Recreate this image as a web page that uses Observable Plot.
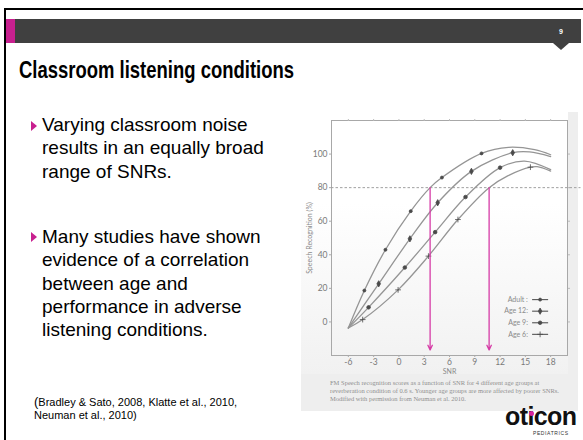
<!DOCTYPE html>
<html>
<head>
<meta charset="utf-8">
<script src="https://cdn.jsdelivr.net/npm/d3@7"></script>
<script src="https://cdn.jsdelivr.net/npm/@observablehq/plot@0.6"></script>
<style>
  html, body { margin: 0; padding: 0; }
  body { width: 583px; height: 440px; position: relative; overflow: hidden; background: #fff; font-family: "Liberation Sans", Arial, sans-serif; }
  .abs { position: absolute; }
  #band { left: 6px; top: 19px; width: 575px; height: 24px; background: #404040; }
  #pink { left: 6px; top: 19px; width: 9px; height: 24px; background: #c8208f; }
  #notch { left: 553px; top: 43px; width: 0; height: 0; border-left: 8px solid transparent; border-right: 8px solid transparent; border-top: 7px solid #404040; }
  #pnum { left: 556px; top: 28px; width: 10px; text-align: center; color: #fff; font-size: 7px; font-weight: bold; }
  #bTop { left: 4px; top: 8px; width: 579px; height: 2px; background: #000; }
  #bLeft { left: 4px; top: 8px; width: 2px; height: 432px; background: #000; }
  #title { left: 19px; top: 56px; font-size: 24px; font-weight: bold; color: #000; white-space: nowrap; transform-origin: left center; }
  .bullet { left: 42px; font-size: 19px; line-height: 23.3px; color: #000; white-space: nowrap; }
  .tri { width: 0; height: 0; border-top: 5px solid transparent; border-bottom: 5px solid transparent; border-left: 6px solid #c8208f; }
  #cite { left: 34px; top: 395px; font-size: 11px; line-height: 13px; color: #000; white-space: nowrap; }
  #panel { left: 301px; top: 112px; width: 277px; height: 299px; background: #eeeeee; }
  #panelWhite { left: 301px; top: 112px; width: 267px; height: 262px; background: linear-gradient(to bottom, #ffffff 0%, #ffffff 35%, #f1f1f1 100%); }
  #chart { left: 301px; top: 112px; }
  #caption { left: 330px; top: 379px; font-family: "Liberation Serif", serif; font-size: 6.5px; line-height: 8px; color: #8e8e8e; white-space: nowrap; }
  #logo { left: 505px; top: 402px; font-size: 25px; font-weight: bold; color: #111; letter-spacing: -0.6px; }
  #logodot { left: 529px; top: 411px; width: 5px; height: 5px; border-radius: 50%; background: #d6249f; }
  #ped { left: 533px; top: 430px; font-size: 5px; letter-spacing: 0.6px; color: #333; }
</style>
</head>
<body>
<div class="abs" id="bTop"></div>
<div class="abs" id="bLeft"></div>
<div class="abs" id="band"></div>
<div class="abs" id="pink"></div>
<div class="abs" id="notch"></div>
<div class="abs" id="pnum">9</div>
<div class="abs" id="title">Classroom listening conditions</div>

<div class="abs tri" style="left:31px;top:121px;"></div>
<div class="abs bullet" style="top:113px;">Varying classroom noise<br>results in an equally broad<br>range of SNRs.</div>
<div class="abs tri" style="left:31px;top:232px;"></div>
<div class="abs bullet" style="top:225px;">Many studies have shown<br>evidence of a correlation<br>between age and<br>performance in adverse<br>listening conditions.</div>
<div class="abs" id="cite"><span style="font-size:13px">(</span>Bradley &amp; Sato, 2008, Klatte et al., 2010,<br>Neuman et al., 2010)</div>

<div class="abs" id="panel"></div>
<div class="abs" id="panelWhite"></div>
<div class="abs" id="chart"></div>
<div class="abs" id="caption">FM Speech recognition scores as a function of SNR for 4 different age groups at<br>reverberation condition of 0.6 s. Younger age groups are more affected by poorer SNRs.<br>Modified with permission from Neuman et al. 2010.</div>

<div class="abs" id="logo">oticon</div>
<div class="abs" id="logodot"></div>
<div class="abs" id="ped">PEDIATRICS</div>

<script>
// ---- Data ----
const snrTicks = [-6, -3, 0, 3, 6, 9, 12, 15, 18];
const scoreTicks = [0, 20, 40, 60, 80, 100];
const groups = ["Adult :", "Age 12:", "Age 9:", "Age 6:"];

// measured points (markers)
const adultSnr = [-4.1, -1.6, 1.4, 5.1, 9.8];
const adultScore = [18.7, 43, 66, 86, 100.4];
const age12Snr = [-2.4, 1.3, 4.6, 8.6, 13.5];
const age12Score = [22.7, 49.5, 71, 89.7, 100.8];
const age9Snr = [-3.6, 0.7, 4.3, 7.9, 12.0];
const age9Score = [8.7, 32.4, 53.5, 74.4, 91.9];
const age6Snr = [-4.3, -0.1, 3.5, 7.0, 15.6];
const age6Score = [1.4, 19.1, 39.2, 61, 92.2];

// fitted curves
const adultFitSnr = [-6, -4.1, -1.6, 1.4, 3.7, 5.1, 9.8, 13, 16.1, 18];
const adultFitScore = [-3.6, 18.7, 43, 66, 80, 86, 100.4, 104, 102.6, 99.6];
const age12FitSnr = [-6, -2.4, 1.3, 4.6, 8.6, 13.5, 15.5, 18];
const age12FitScore = [-3.6, 22.7, 49.5, 71, 89.7, 100.8, 101.3, 98.5];
const age9FitSnr = [-6, -3.6, 0.7, 4.3, 7.9, 12.0, 14.9, 18];
const age9FitScore = [-3.6, 8.7, 32.4, 53.5, 74.4, 91.9, 95.8, 90.7];
const age6FitSnr = [-6, -4.3, -0.1, 3.5, 7.0, 10.7, 12.9, 15.6, 16.4, 18];
const age6FitScore = [-3.6, 1.4, 19.1, 39.2, 61, 80, 87, 92.2, 92.5, 89.9];

// 80% criterion and the SNRs where it is reached
const criterion = 80;
const criterionSnr = [3.7, 10.7];
const arrowEnd = -16.7;

// ---- Title fit to the reference width ----
const titleEl = document.getElementById("title");
const tw = titleEl.getBoundingClientRect().width;
titleEl.style.transform = `scaleX(${275 / tw})`;

// ---- Build ----
const pts = (xs, ys) => xs.map((x, i) => ({x, y: ys[i]}));
const fits = [
  pts(adultFitSnr, adultFitScore), pts(age12FitSnr, age12FitScore),
  pts(age9FitSnr, age9FitScore), pts(age6FitSnr, age6FitScore)
];
const marks = [
  pts(adultSnr, adultScore), pts(age12Snr, age12Score),
  pts(age9Snr, age9Score), pts(age6Snr, age6Score)
];
const symStyle = [
  {symbol: "circle", r: 1.5},
  {symbol: "diamond", r: 1.9},
  {symbol: "circle", r: 1.8},
  {symbol: "plus", r: 2.0}
];
const lineCol = "#959595", dotCol = "#4a4a4a", pink = "#d63ba6";

const legendX = 15.3, legendTop = 13.3, legendStep = 6.9;
const legendRows = groups.map((g, i) => ({label: g, y: legendTop - i * legendStep}));

const plot = Plot.plot({
  width: 277, height: 299,
  marginLeft: 30, marginRight: 11, marginTop: 8, marginBottom: 56,
  style: {background: "transparent", fontFamily: "Lato, 'Open Sans', sans-serif", fontSize: "8.5px", color: "#7a7a7a", overflow: "visible"},
  x: {domain: [-8, 20]},
  y: {domain: [-20, 120]},
  marks: [
    Plot.frame({stroke: "#a8a8a8"}),
    Plot.axisX({ticks: snrTicks, tickSize: 2, tickPadding: 1, tickFormat: d => String(d), label: null, stroke: "#aaa"}),
    Plot.axisX({anchor: "top", ticks: snrTicks, tickSize: 2, tickFormat: () => "", label: null, stroke: "#bbb"}),
    Plot.axisY({ticks: scoreTicks, tickSize: 2, tickPadding: 2, label: null, stroke: "#aaa"}),
    Plot.axisY({anchor: "right", ticks: scoreTicks, tickSize: 2, tickFormat: () => "", label: null, stroke: "#bbb"}),
    Plot.text(["SNR"], {frameAnchor: "bottom", dy: 18, fill: "#8a8a8a", fontSize: 7}),
    Plot.text(["Speech Recognition (%)"], {frameAnchor: "left", textAnchor: "middle", dx: -22, rotate: -90, fill: "#8a8a8a", fontSize: 7}),
    Plot.ruleY([criterion], {x1: -8, x2: 21.6, stroke: "#a0a0a0", strokeDasharray: "2.5,2", strokeWidth: 1, clip: false}),
    ...fits.map(f => Plot.line(f, {x: "x", y: "y", curve: "catmull-rom", stroke: lineCol, strokeWidth: 1.3})),
    ...marks.map((m, i) => Plot.dot(m, {x: "x", y: "y", ...symStyle[i], fill: dotCol, stroke: dotCol, strokeWidth: 0.8})),
    Plot.arrow(criterionSnr, {x1: d => d, x2: d => d, y1: criterion, y2: arrowEnd, stroke: pink, strokeWidth: 1.3, headLength: 6, headAngle: 50}),
    Plot.text(legendRows, {x: legendX, y: "y", text: "label", textAnchor: "end", fill: "#8a8a8a", fontSize: 7}),
    Plot.link(legendRows, {x1: legendX + 0.5, x2: legendX + 2.4, y1: "y", y2: "y", stroke: "#555", strokeWidth: 1.1}),
    ...legendRows.map((row, i) => Plot.dot([row], {x: legendX + 1.45, y: "y", ...symStyle[i], fill: dotCol, stroke: dotCol, strokeWidth: 0.8}))
  ]
});
document.getElementById("chart").appendChild(plot);
</script>
</body>
</html>
